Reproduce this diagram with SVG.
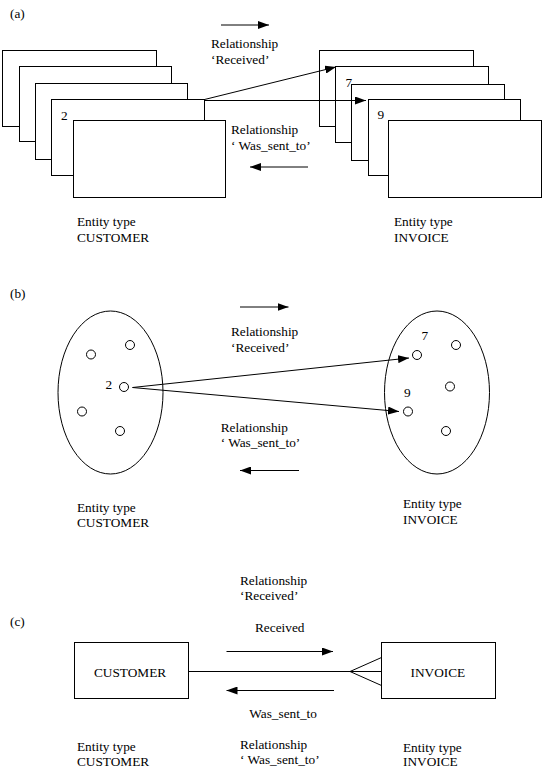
<svg xmlns="http://www.w3.org/2000/svg" width="542" height="779" viewBox="0 0 542 779">
<style>
text{font-family:'Liberation Serif','Times New Roman',Times,'DejaVu Serif','Noto Serif',serif;font-size:13.3px;fill:#000}
.box{fill:#fff;stroke:#000;stroke-width:1}
.ell{fill:none;stroke:#000;stroke-width:1}
.dot{fill:none;stroke:#000;stroke-width:1}
.ln{fill:none;stroke:#000;stroke-width:1}
.arr{fill:none;stroke:#000;stroke-width:1;marker-end:url(#ah)}
</style>
<defs>
<marker id="ah" markerUnits="userSpaceOnUse" markerWidth="11" markerHeight="8" refX="11" refY="4" orient="auto">
<path d="M0,0 L11,4 L0,8 Z" fill="#000"/>
</marker>
</defs>
<rect width="542" height="779" fill="#fff"/>
<g font-family="Liberation Serif, Times New Roman, DejaVu Serif, serif">

<!-- Section (a) -->
<text x="10" y="18">(a)</text>
<g id="a-customer">
<rect class="box" x="2.5" y="50.5" width="154" height="76"/>
<rect class="box" x="19.5" y="66.5" width="152" height="75"/>
<rect class="box" x="35.5" y="83.5" width="152" height="76"/>
<rect class="box" x="51.5" y="99.5" width="153" height="76"/>
<rect class="box" x="73.5" y="120.5" width="152" height="77"/>
<text x="61" y="119.5">2</text>
<text x="77" y="225.5">Entity type</text>
<text x="77" y="242">CUSTOMER</text>
</g>
<g id="a-invoice">
<rect class="box" x="319.5" y="50.5" width="154" height="76"/>
<rect class="box" x="335.5" y="66.5" width="153" height="76"/>
<rect class="box" x="351.5" y="84.5" width="153" height="76"/>
<rect class="box" x="368.5" y="99.5" width="152" height="76"/>
<rect class="box" x="388.5" y="120.5" width="153" height="77"/>
<text x="345.5" y="86.5">7</text>
<text x="377.5" y="118.7">9</text>
<text x="394" y="225.5">Entity type</text>
<text x="394" y="242">INVOICE</text>
</g>

<!-- Section (b) -->
<text x="10" y="298">(b)</text>
<g id="b-customer">
<ellipse class="ell" cx="110.5" cy="392.5" rx="52.5" ry="81.5"/>
<circle class="dot" cx="130" cy="345" r="4.5"/>
<circle class="dot" cx="91" cy="354.5" r="4.5"/>
<circle class="dot" cx="124" cy="387" r="4.5"/>
<circle class="dot" cx="82" cy="411.5" r="4.5"/>
<circle class="dot" cx="120" cy="431" r="4.5"/>
<text x="105.5" y="388.5">2</text>
<text x="77" y="511.5">Entity type</text>
<text x="77" y="527">CUSTOMER</text>
</g>
<g id="b-invoice">
<ellipse class="ell" cx="437" cy="392.5" rx="52.5" ry="81.5"/>
<circle class="dot" cx="417" cy="355" r="4.5"/>
<circle class="dot" cx="456" cy="345" r="4.5"/>
<circle class="dot" cx="450" cy="386.5" r="4.5"/>
<circle class="dot" cx="408" cy="411.5" r="4.5"/>
<circle class="dot" cx="446" cy="431" r="4.5"/>
<text x="421.5" y="340">7</text>
<text x="404" y="397">9</text>
<text x="403" y="508">Entity type</text>
<text x="403" y="523.5">INVOICE</text>
</g>

<!-- Section (c) -->
<text x="10" y="625.5">(c)</text>
<g id="c-customer">
<rect class="box" x="74.5" y="642.5" width="114" height="56"/>
<text x="94" y="676.5">CUSTOMER</text>
<text x="77" y="751">Entity type</text>
<text x="77" y="766">CUSTOMER</text>
</g>
<g id="c-invoice">
<rect class="box" x="381.5" y="642.5" width="114" height="56"/>
<text x="410.5" y="676.5">INVOICE</text>
<text x="403" y="751.5">Entity type</text>
<text x="403" y="766">INVOICE</text>
</g>

<!-- Connectors -->
<g id="connectors">
<line class="arr" x1="221" y1="25" x2="269" y2="25"/>
<line class="arr" x1="204.5" y1="99.5" x2="336" y2="67"/>
<line class="arr" x1="204.5" y1="100.5" x2="366" y2="100.5"/>
<line class="arr" x1="308" y1="167" x2="250" y2="167"/>
<line class="arr" x1="240" y1="307" x2="288.5" y2="307"/>
<line class="arr" x1="132.5" y1="387.5" x2="409" y2="358"/>
<line class="arr" x1="132.5" y1="387.5" x2="399" y2="411.5"/>
<line class="arr" x1="299" y1="470.5" x2="240" y2="470.5"/>
<line class="arr" x1="226.5" y1="651.5" x2="333" y2="651.5"/>
<line class="ln" x1="188.5" y1="671.5" x2="381.5" y2="671.5"/>
<polyline class="ln" points="381.5,657.5 350,671.5 381.5,685.5"/>
<line class="arr" x1="334" y1="690.5" x2="226.5" y2="690.5"/>
</g>

<g id="labels">
<text x="211" y="48.3">Relationship</text>
<text x="211" y="64.3">‘Received’</text>
<text x="231" y="133.5">Relationship</text>
<text x="231" y="149.5">‘ Was_sent_to’</text>
<text x="231" y="335.7">Relationship</text>
<text x="231" y="351.7">‘Received’</text>
<text x="220.7" y="431.7">Relationship</text>
<text x="220.7" y="447.3">‘ Was_sent_to’</text>
<text x="240" y="585">Relationship</text>
<text x="240" y="600">‘Received’</text>
<text x="255" y="631.7">Received</text>
<text x="249.3" y="718.3">Was_sent_to</text>
<text x="240" y="748.8">Relationship</text>
<text x="240" y="763.5">‘ Was_sent_to’</text>
</g>
</g>
</svg>
